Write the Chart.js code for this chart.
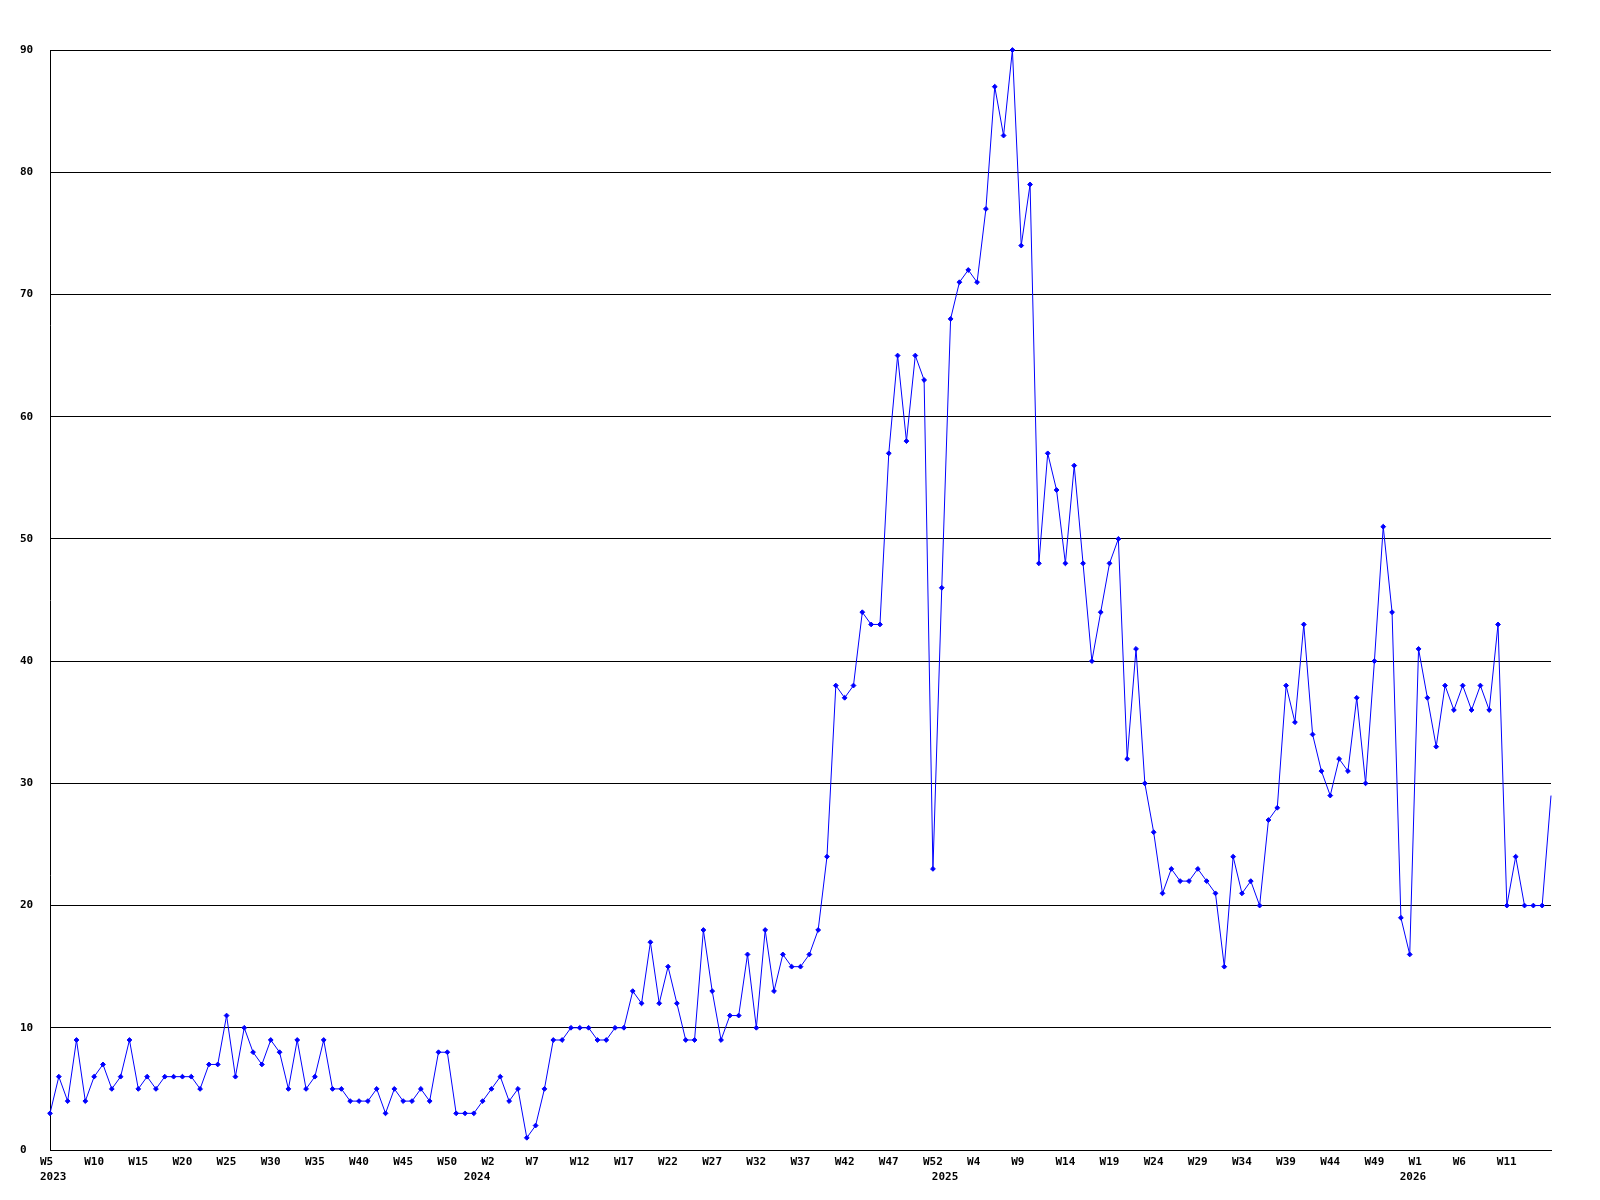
<!DOCTYPE html>
<html>
<head>
<meta charset="utf-8">
<script src="https://cdn.jsdelivr.net/npm/chart.js@4.4.1/dist/chart.umd.min.js"></script>
<style>
html,body{margin:0;padding:0;background:#ffffff;}
#wrap{width:1600px;height:1200px;}
</style>
</head>
<body>
<div id="wrap"><canvas id="c" width="1600" height="1200"></canvas></div>
<script>
// ---- data ----
const years = [2023, 2024, 2025, 2026];
const firstWeeks = [5, 0, 0, 0];
const lastWeeks = [52, 52, 52, 16];

const values2023 = [3, 6, 4, 9, 4, 6, 7, 5, 6, 9, 5, 6, 5, 6, 6, 6, 6, 5, 7, 7,
                    11, 6, 10, 8, 7, 9, 8, 5, 9, 5, 6, 9, 5, 5,
                    4, 4, 4, 5, 3, 5, 4, 4, 5, 4, 8, 8, 3, 3];
const values2024 = [3, 4, 5, 6, 4, 5, 1, 2, 5, 9, 9, 10, 10, 10, 9, 9, 10, 10, 13, 12,
                    17, 12, 15, 12, 9, 9, 18, 13, 9, 11, 11, 16, 10, 18, 13, 16, 15, 15, 16, 18,
                    24, 38, 37, 38, 44, 43, 43, 57, 65, 58, 65, 63, 23];
const values2025 = [46, 68, 71, 72, 71, 77, 87, 83, 90, 74, 79, 48, 57, 54, 48, 56, 48, 40, 44, 48,
                    50, 32, 41, 30, 26, 21, 23, 22, 22, 23, 22, 21, 15, 24, 21, 22, 20, 27, 28, 38,
                    35, 43, 34, 31, 29, 32, 31, 37, 30, 40, 51, 44, 19];
const values2026 = [16, 41, 37, 33, 38, 36, 38, 36, 38, 36, 43, 20, 24, 20, 20, 20, 29];

const yTicks = [0, 10, 20, 30, 40, 50, 60, 70, 80, 90];
const labelEvery = 5;

// ---- build categories ----
const categories = [];
const yearStart = {};
years.forEach((y, i) => {
  yearStart[categories.length] = String(y);
  for (let w = firstWeeks[i]; w <= lastWeeks[i]; w++) categories.push('W' + w);
});
const values = [].concat(values2023, values2024, values2025, values2026);
const lastIndex = categories.length - 1;

const FONT = { family: '"DejaVu Sans Mono", "Liberation Mono", monospace', size: 11, weight: 'bold', lineHeight: '15px' };

new Chart(document.getElementById('c'), {
  type: 'line',
  data: {
    labels: categories,
    datasets: [{
      data: values,
      borderColor: '#0000ff',
      backgroundColor: '#0000ff',
      borderWidth: 1,
      tension: 0,
      fill: false,
      clip: false,
      pointStyle: 'rectRot',
      pointRadius: ctx => (ctx.dataIndex === lastIndex ? 0 : 2.4),
      pointBorderWidth: 1,
      pointBorderColor: '#0000ff',
      pointBackgroundColor: '#0000ff'
    }]
  },
  options: {
    responsive: false,
    animation: false,
    devicePixelRatio: 1,
    layout: { padding: { left: 20, right: 49, top: 50, bottom: 0 } },
    plugins: { legend: { display: false }, tooltip: { enabled: false } },
    scales: {
      x: {
        type: 'category',
        offset: false,
        grid: { display: false, drawTicks: false },
        border: { display: true, color: '#000000', width: 1 },
        ticks: {
          autoSkip: false,
          maxRotation: 0,
          minRotation: 0,
          align: 'start',
          labelOffset: -10,
          padding: 5,
          color: '#000000',
          font: FONT,
          callback: function (value, index) {
            const wk = (index % labelEvery === 0 && index !== lastIndex) ? categories[index] : '';
            const yr = yearStart[index];
            return yr ? [wk, yr] : wk;
          }
        },
        afterFit: axis => { axis.height = 50; }
      },
      y: {
        min: 0,
        max: 90,
        grid: { display: true, color: '#000000', lineWidth: 1, drawTicks: false },
        border: { display: true, color: '#000000', width: 1 },
        afterBuildTicks: axis => { axis.ticks = yTicks.map(v => ({ value: v })); },
        ticks: {
          crossAlign: 'far',
          padding: 0,
          color: '#000000',
          font: FONT,
          callback: v => String(v)
        },
        afterFit: axis => { axis.width = 30; }
      }
    }
  }
});
</script>
</body>
</html>
